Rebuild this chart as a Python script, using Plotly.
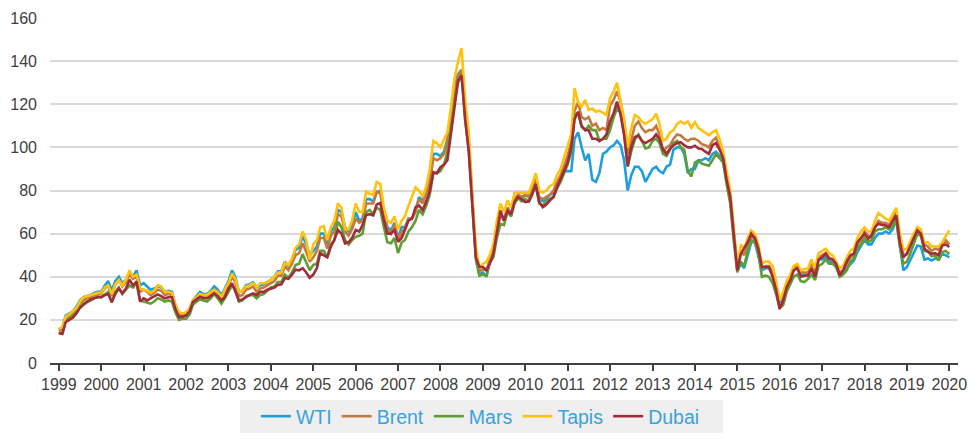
import pandas as pd
import plotly.graph_objects as go

months = pd.date_range("1999-01-01", periods=253, freq="MS")

wti = [
    15.5, 16.5, 22, 23, 24, 26, 29, 30.5, 31, 31.5, 32.5, 33,
    33, 36, 38, 33.5, 38, 40, 37, 38.5, 42, 40, 43, 36,
    37, 35.5, 34, 34.5, 35.5, 35, 33, 33.5, 33, 27, 22, 22.5,
    23, 25, 29, 31, 33, 32, 32, 33.5, 35.5, 34, 31.5, 34.5,
    38, 43, 40, 33, 33.5, 36, 36.5, 37.5, 35, 36, 36.5, 37.5,
    38.5, 40, 42.5, 42.5, 47, 45, 48, 52.5, 53.5, 59, 55, 50,
    52, 54, 60, 60, 55, 61, 63, 71, 70, 63, 61, 64,
    70, 66, 67, 76, 76, 75, 79, 80, 70, 63, 61.5, 65,
    58, 63, 63, 67, 67, 71, 77, 75, 81, 86, 97, 97,
    96, 98, 104, 114, 128, 134, 136, 117, 103, 76, 50, 41,
    42, 40, 48, 51, 60, 70, 66, 72, 69, 76, 78, 76,
    78, 77, 81, 86, 76, 75, 76, 78, 79, 84, 86, 89,
    89, 89, 104, 107, 100, 94, 97, 85, 84, 88, 97, 98,
    100, 101, 103, 101, 94, 80, 87, 91, 91, 89, 84, 87,
    90, 91, 89, 88, 91, 92, 99, 100, 100, 97, 88, 90,
    90, 94, 94, 95, 94, 97, 98, 96, 93, 85, 76, 60,
    43, 46, 44, 50, 56, 56, 50, 43, 44, 44, 41, 36,
    28, 30, 35, 38, 44, 44, 41, 41, 41, 45, 41, 48,
    48, 49, 47, 47, 45, 41, 42, 44, 46, 47.5, 51.5, 54,
    57, 55, 55, 58, 60, 60, 61, 60, 62, 67, 55, 43,
    44.5, 48, 51, 54.5, 54, 48, 48.5, 47.5, 48.5, 48, 50.5, 50,
    49,
]

brent = [
    15, 15.5, 20.5, 21.5, 23, 24.5, 27.5, 29, 30, 30.5, 31.5, 32,
    32, 34.5, 36, 31, 36.5, 38.5, 35.5, 37.5, 41, 39, 40, 33,
    34, 33, 31.5, 32.5, 34, 33.5, 31.5, 32, 31.5, 25.5, 22.5, 22.5,
    22.5, 24.5, 28.5, 30.5, 31.5, 30.5, 30.5, 32, 34, 32.5, 30, 33,
    36, 40, 37.5, 31, 31.5, 34, 34.5, 35.5, 33, 34.5, 35, 36,
    37, 38, 40.5, 40.5, 45, 43, 46, 50, 51, 55.5, 51.5, 47,
    49, 52, 58, 58, 53, 59, 61, 69, 68, 61, 59, 62,
    67, 65, 66, 74, 74, 74, 79.5, 79, 68, 62, 60, 64,
    57, 61, 62, 67, 67, 70, 76, 74, 79, 84, 95, 94,
    95, 97, 103, 112, 126, 133, 136, 116, 102, 74, 50, 42.5,
    43.5, 43, 48, 52, 60, 69, 66, 72, 69, 76, 78, 77,
    78, 77, 81, 85, 77, 76, 77, 78, 80, 84, 87, 91,
    96, 103, 117, 121, 114, 113, 114, 110, 111, 108, 109, 108,
    119.5, 122, 126, 121, 112, 97, 104, 110, 112, 109, 107, 108,
    108, 110, 106, 98, 100, 101, 104, 106, 105.5, 104, 103, 104,
    104, 103, 101.5, 101, 100, 103, 104.5, 100, 96, 86, 78, 61,
    44, 52, 50, 55, 59, 57, 52, 44, 45, 45, 42, 36,
    29, 31, 36, 39, 44, 45, 42, 42, 42, 46, 42, 49,
    50, 51, 49, 48, 46, 42, 43, 46, 49, 50, 55, 57,
    61, 59, 59, 63, 66, 65, 65, 64, 67, 70, 58, 50,
    50.5, 55, 58, 61.5, 60, 55, 54, 52, 53, 52.5, 55, 57,
    55,
]

mars = [
    13.5, 14, 19.5, 20.5, 22, 23.5, 26, 27.5, 28.5, 29, 30, 31,
    30.5, 32, 33, 28, 33, 35, 32, 34, 36, 35, 37, 29,
    28.5, 28, 27.5, 28.5, 30, 29.5, 28.5, 29, 28.5, 23.5, 20, 20.5,
    20.5, 22.5, 27, 28.5, 29.5, 29, 28.5, 30, 32, 30, 27.5, 30,
    33, 36, 34, 28.5, 29, 31, 31.5, 31.5, 30, 31.5, 32, 33.5,
    35, 35.5, 37.5, 37.5, 41, 39.5, 42, 45.5, 46, 50.5, 47, 43,
    45.5, 46, 52, 52, 49, 55, 57, 65.5, 63, 57, 55, 57,
    58.5, 59, 60, 70, 71, 69, 72, 71, 63, 56, 55.5, 58,
    51, 56, 57, 61, 63, 66, 71, 69, 73, 78, 88, 88,
    89, 92, 98, 109, 122, 130, 134, 113, 99, 72, 48, 40.5,
    41, 40.5, 46.5, 49, 58, 64.5, 64, 70, 68, 74, 76.5, 75,
    76, 75, 79, 82, 74, 73, 75, 76, 77, 81, 84, 88,
    92, 98, 115, 116, 109.5, 108, 110, 108, 108, 103, 104, 104,
    108, 114, 118, 116, 106, 91, 98, 103.5, 106, 103, 99.5, 100,
    103, 104, 102, 97, 96, 99, 102, 103, 100, 99, 89, 86.5,
    93, 94, 92.5, 92, 91.5, 94, 97, 95, 93, 83, 74, 57,
    42, 47, 45, 52, 57, 56, 51, 40, 40.5, 40, 37, 32,
    25.5, 27, 33, 36.5, 40, 41, 38, 37.5, 39, 41, 38.5, 45,
    46, 48, 46, 46, 44.5, 40, 41, 43, 47, 48.5, 53, 55,
    58, 56, 57, 61, 62, 62, 63, 62, 63.5, 66, 54, 46,
    47, 51, 55, 60, 59, 52, 52, 49.5, 50, 47.5, 51.5, 52,
    50.5,
]

tapis = [
    16, 16.5, 21.5, 22.5, 24, 25.5, 28.5, 30.5, 31, 31.5, 32, 32.5,
    32.5, 35, 36, 32, 36.5, 38.5, 36, 38.5, 43, 40, 41, 34.5,
    34, 33.5, 32.5, 33.5, 36, 35.5, 33, 33, 32.5, 27, 23.5, 23,
    23.5, 25.5, 29, 30.5, 32, 31.5, 31.5, 33, 34, 33, 30.5, 34,
    37, 41.5, 39, 33, 33.5, 35.5, 36, 37, 35, 37, 37, 37.5,
    38.5, 40, 42, 42, 46.5, 45.5, 48.5, 53.5, 55, 61, 57, 48,
    55, 57, 63, 63.5, 57, 63, 66, 74, 72, 62, 62, 66,
    74, 70, 70, 79.5, 78.5, 78, 84, 83, 72, 66, 65, 68,
    62, 66, 68, 73, 77, 81.5, 80, 77, 82, 90, 103, 102,
    100, 104, 107, 118.5, 132, 140, 146, 122, 107, 78, 54, 44,
    46, 47, 50, 55, 66, 74, 70, 75.5, 72, 79, 79, 79,
    79, 79, 83, 88, 80, 79, 80, 82, 83, 87, 90, 95,
    100, 106, 127.5, 121, 118.8, 122, 117.3, 118, 116.5, 117, 116, 115,
    122.8, 126, 130, 122, 113, 100, 108.7, 115, 114, 112, 111, 112,
    113, 115.6, 111, 103, 104, 107, 108, 111, 112, 111, 112, 109,
    111.7, 109, 108, 107, 105.6, 107, 108, 104, 98, 89, 80, 63,
    45, 55, 53, 58, 61.5, 60, 55, 46, 47, 47, 45, 38,
    29, 33, 38, 41, 45, 46, 43, 43.5, 44, 48, 44, 51,
    52, 53, 51, 50, 47, 44, 45, 49, 52, 53, 58, 61,
    63, 61, 61, 66, 69.5, 68, 67, 66, 69, 72, 60, 52.5,
    53, 57, 60, 63, 62, 56, 56, 54, 54, 54, 56, 59,
    61.5,
]

dubai = [
    14, 13.5, 19, 20, 21, 23, 25.5, 27, 28.5, 29.5, 30, 30.5,
    30.5, 31.5, 32, 28.3, 32, 34.6, 32.3, 34.5, 38.6, 36, 37.8, 28.5,
    30, 29, 30, 31, 31.8, 31, 30, 30.5, 30.5, 25, 21.3, 21.5,
    22, 24, 28.3, 29.5, 30.7, 30, 30, 31, 32.3, 31, 29, 30.5,
    34.6, 37, 33.5, 29, 29.5, 30.7, 31.5, 32.3, 31.5, 33, 33, 34,
    34.6, 35, 36.2, 36.5, 39.4, 39, 40.9, 43.3, 43, 44, 42, 39.5,
    41, 44, 51, 50, 49, 54, 57, 61.7, 60, 55.5, 56, 58,
    61.7, 61, 64, 68.6, 69, 68.5, 73.5, 74.2, 66, 60, 60, 61.7,
    56.2, 58, 62, 66, 67, 72.3, 73, 71, 75, 80, 88.5, 88,
    90.8, 92, 94, 106, 120, 131, 133.3, 113, 98, 72, 49, 44.5,
    44.5, 43, 46, 50.7, 60, 70.7, 66, 70.7, 69, 75, 77, 76,
    74.6, 75, 78, 83, 74.6, 72.3, 73.5, 75.4, 77, 81.5, 85, 89,
    93, 100, 113, 116.5, 110, 108, 108, 104, 104, 103, 104, 106,
    112, 116, 121.2, 115, 106, 91.5, 100, 104.8, 105.5, 103, 102, 103,
    104, 106, 104, 99, 97, 99.4, 101, 102, 102.4, 101, 100, 100,
    100.8, 99.5, 99.3, 98, 97, 101, 102, 99, 95, 85, 77, 60,
    43, 50.7, 53, 56, 60, 58, 53, 44.5, 44.5, 44.5, 40, 34,
    25.2, 29, 35.2, 38.3, 43, 44, 40, 40.5, 40.6, 43.7, 40, 48,
    49, 50.7, 48.4, 48, 46, 40.6, 43, 47, 50, 50.7, 56.1, 58,
    60, 57.6, 59, 63, 64.6, 64, 63.8, 63, 66, 68.5, 56, 49,
    50.7, 55, 58, 61.5, 60, 53, 51.5, 50.7, 51, 50, 54.5, 55,
    53.8,
]

series_names = ["WTI", "Brent", "Mars", "Tapis", "Dubai"]
series_values = [wti, brent, mars, tapis, dubai]
series_colors = ["#1E9FDB", "#C57A3D", "#5E9E34", "#FFC20E", "#A22C3A"]

y_ticks = [0, 20, 40, 60, 80, 100, 120, 140, 160]
year_ticks = [str(y) for y in range(1999, 2021)]

fig = go.Figure()
for name, vals, col in zip(series_names, series_values, series_colors):
    fig.add_trace(go.Scatter(
        x=months, y=vals, name=name, mode="lines",
        line=dict(color=col, width=2.6),
    ))

# grey legend panel (plot area spans x 50..958 px, y 18..363 px)
fig.add_shape(
    type="rect", xref="paper", yref="paper", layer="below",
    x0=(240 - 50) / 908, x1=(723 - 50) / 908,
    y0=(363 - 433) / 345, y1=(363 - 400) / 345,
    fillcolor="#EFEFEF", line=dict(width=0),
)

fig.update_layout(
    width=969, height=439,
    margin=dict(l=50, r=11, t=18, b=76, autoexpand=False),
    paper_bgcolor="white", plot_bgcolor="white",
    font=dict(family="Liberation Sans, Arial, sans-serif", size=16, color="#404040"),
    showlegend=True,
    legend=dict(
        orientation="h", x=0.474, xanchor="center",
        yref="container", y=0.0957, yanchor="top",
        bgcolor="rgba(0,0,0,0)", font=dict(size=19.5, color="#3AA3DB"),
        itemwidth=30, tracegroupgap=0,
    ),
)
fig.update_xaxes(
    type="date", automargin=False,
    range=["1998-10-17", "2020-03-16"],
    tickvals=[pd.Timestamp(f"{y}-01-01") for y in year_ticks],
    ticktext=year_ticks,
    ticks="outside", ticklen=6, tickwidth=1.5, tickcolor="#404040",
    showline=True, linecolor="#404040", linewidth=1.5,
    showgrid=False, zeroline=False,
    tickfont=dict(size=16, color="#404040"),
)
fig.update_yaxes(
    range=[0, 160], tickvals=y_ticks, automargin=False,
    showgrid=True, gridcolor="#D9D9D9", gridwidth=1.5,
    zeroline=False, showline=False, ticks="",
    ticklabelstandoff=12,
    tickfont=dict(size=16, color="#404040"),
)

fig.write_html(
    "out.html",
    config={"displayModeBar": False},
    post_script="document.body.style.margin='0';document.body.style.overflow='hidden';",
)
